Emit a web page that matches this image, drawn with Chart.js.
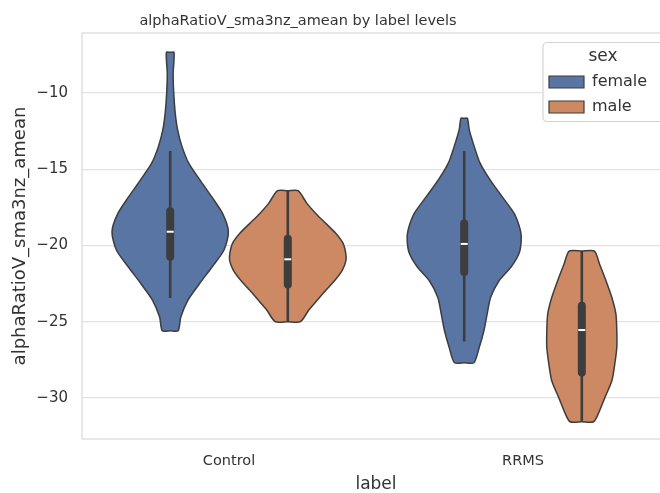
<!DOCTYPE html>
<html>
<head>
<meta charset="utf-8">
<script src="https://cdn.jsdelivr.net/npm/chart.js@4.4.1/dist/chart.umd.min.js"></script>
<style>
  html, body { margin: 0; padding: 0; background: #fff; width: 660px; height: 493px; overflow: hidden; }
  #wrap { width: 700px; height: 493px; }
</style>
</head>
<body>
<div id="wrap"><canvas id="violin" width="700" height="493"></canvas></div>
<script>
const categories = ['Control', 'RRMS'];
const hues = ['female', 'male'];
const hueColors = ['#5875a4', '#cc8963'];
const yTicks = [-30, -25, -20, -15, -10];

// violin outlines: y levels and half widths (in category units)
const controlFemaleY = [-7.33, -8.7, -10.0, -11.3, -12.4, -13.5, -14.6, -15.7, -16.8, -17.9, -19.1, -20.3, -21.4, -22.5, -23.6, -24.7, -25.6];
const controlFemaleW = [0.013, 0.010, 0.012, 0.017, 0.025, 0.040, 0.063, 0.101, 0.141, 0.178, 0.198, 0.183, 0.143, 0.100, 0.060, 0.036, 0.027];
const controlMaleY = [-16.41, -17.24, -17.9, -18.55, -19.2, -19.86, -20.5, -20.96, -21.6, -22.27, -22.93, -23.6, -24.25, -25.0];
const controlMaleW = [0.035, 0.065, 0.095, 0.129, 0.163, 0.188, 0.197, 0.198, 0.186, 0.161, 0.130, 0.100, 0.071, 0.043];
const rrmsFemaleY = [-11.66, -12.4, -13.5, -14.6, -15.7, -16.8, -17.9, -19.0, -19.65, -20.5, -21.4, -22.3, -23.4, -24.5, -25.6, -26.7, -27.7];
const rrmsFemaleW = [0.011, 0.017, 0.034, 0.054, 0.088, 0.129, 0.170, 0.191, 0.194, 0.187, 0.160, 0.119, 0.090, 0.078, 0.067, 0.051, 0.033];
const rrmsMaleY = [-20.37, -21.2, -22.3, -23.4, -24.5, -25.6, -26.7, -27.8, -28.9, -30.0, -31.0, -31.57];
const rrmsMaleW = [0.043, 0.060, 0.082, 0.102, 0.116, 0.119, 0.119, 0.112, 0.102, 0.078, 0.057, 0.040];

// inner box stats, one value per category
const femaleWhiskerHi = [-13.8, -13.8];
const femaleWhiskerLo = [-23.45, -26.3];
const femaleQ3 = [-17.76, -18.56];
const femaleQ1 = [-20.74, -21.74];
const femaleMedian = [-19.1, -19.9];
const maleWhiskerHi = [-16.41, -20.37];
const maleWhiskerLo = [-25.0, -31.57];
const maleQ3 = [-19.56, -23.96];
const maleQ1 = [-22.56, -28.34];
const maleMedian = [-20.91, -25.55];

const outlines = [
  [[controlFemaleY, controlFemaleW], [controlMaleY, controlMaleW]],
  [[rrmsFemaleY, rrmsFemaleW], [rrmsMaleY, rrmsMaleW]]
];
const stats = [
  { hi: femaleWhiskerHi, lo: femaleWhiskerLo, q3: femaleQ3, q1: femaleQ1, med: femaleMedian },
  { hi: maleWhiskerHi, lo: maleWhiskerLo, q3: maleQ3, q1: maleQ1, med: maleMedian }
];

const edge = '#3d3d3d';
const center = (ci, hi) => ci + (hi - 0.5) * 0.4;

function violinOutline(c, ys, ws) {
  const pts = [{ x: c, y: ys[0] }];
  ys.forEach((y, i) => pts.push({ x: c + ws[i], y }));
  pts.push({ x: c, y: ys[ys.length - 1] });
  for (let i = ys.length - 1; i >= 0; i--) pts.push({ x: c - ws[i], y: ys[i] });
  pts.push({ x: c, y: ys[0] });
  return pts;
}

const datasets = [];
categories.forEach((cat, ci) => {
  hues.forEach((hue, hi) => {
    const c = center(ci, hi);
    const [ys, ws] = outlines[ci][hi];
    const s = stats[hi];
    datasets.push({
      label: cat + ' ' + hue, data: violinOutline(c, ys, ws), order: 3,
      backgroundColor: hueColors[hi], borderColor: edge, borderWidth: 1.5,
      fill: 'shape', pointRadius: 0, tension: 0.25
    });
    datasets.push({
      data: [{ x: c, y: s.hi[ci] }, { x: c, y: s.lo[ci] }], order: 2,
      borderColor: edge, borderWidth: 2.6, pointRadius: 0, fill: false
    });
    datasets.push({
      data: [{ x: c, y: s.q3[ci] }, { x: c, y: s.q1[ci] }], order: 1,
      borderColor: edge, borderWidth: 8, borderCapStyle: 'round', pointRadius: 0, fill: false
    });
    datasets.push({
      data: [{ x: c, y: s.med[ci] }], order: 0, showLine: false,
      pointStyle: 'line', pointRadius: 3.5, pointBorderColor: '#ffffff', pointBorderWidth: 2
    });
  });
});

const violinFrame = {
  id: 'violinFrame',
  afterLayout(chart) {
    const lg = chart.legend, area = chart.chartArea;
    lg.left = area.right - 130;
    lg.top = area.top + 9;
    lg.width = 126;
    lg.right = lg.left + lg.width;
  },
  beforeDatasetsDraw(chart) {
    const { ctx, chartArea: a } = chart;
    ctx.save();
    ctx.strokeStyle = '#dcdcdc';
    ctx.lineWidth = 1.3;
    ctx.strokeRect(a.left, a.top, a.right - a.left, a.bottom - a.top);
    ctx.restore();
  },
  afterDraw(chart) {
    const { ctx } = chart;
    const lg = chart.legend;
    ctx.save();
    ctx.beginPath();
    ctx.roundRect(lg.left + 3, lg.top + 0.5, 150, 79, 4);
    ctx.fillStyle = '#ffffff';
    ctx.fill();
    ctx.strokeStyle = '#d4d4d4';
    ctx.lineWidth = 1.2;
    ctx.stroke();
    ctx.fillStyle = '#333333';
    ctx.font = '14.5px "DejaVu Sans"';
    ctx.textAlign = 'center';
    ctx.textBaseline = 'alphabetic';
    ctx.fillText('alphaRatioV_sma3nz_amean by label levels', 298, 25);
    ctx.restore();
    lg.draw();
  }
};

Chart.defaults.font.family = '"DejaVu Sans", sans-serif';
Chart.defaults.color = '#333333';

new Chart(document.getElementById('violin'), {
  type: 'line',
  data: { datasets },
  options: {
    indexAxis: 'y',
    responsive: false,
    animation: false,
    events: [],
    layout: { padding: { left: 0, top: 33, right: 30, bottom: 0 } },
    scales: {
      x: {
        type: 'linear', min: -0.5, max: 1.5,
        afterBuildTicks: s => { s.ticks = categories.map((c, i) => ({ value: i })); },
        afterFit: s => { s.height = 54; },
        grid: { display: false, drawTicks: false },
        border: { display: false },
        ticks: { callback: v => categories[v], padding: 14, autoSkip: false, maxRotation: 0, font: { size: 14.5 } },
        title: { display: true, text: 'label', font: { size: 17, lineHeight: 1 }, padding: 0 }
      },
      y: {
        type: 'linear', min: -32.7, max: -6.06,
        afterBuildTicks: s => { s.ticks = yTicks.map(v => ({ value: v })); },
        afterFit: s => { s.width = 82; },
        grid: { color: '#e3e3e3', lineWidth: 1.3, drawTicks: false },
        border: { display: false },
        ticks: { callback: v => String(v).replace('-', '\u2212'), padding: 14, font: { size: 15 } },
        title: { display: true, text: 'alphaRatioV_sma3nz_amean', font: { size: 18 }, padding: { top: 10, bottom: 0 } }
      }
    },
    plugins: {
      tooltip: { enabled: false },
      legend: {
        position: 'chartArea',
        align: 'start',
        title: { display: true, text: 'sex', font: { size: 17, lineHeight: 1 }, padding: { top: 6, bottom: 0 } },
        labels: {
          boxWidth: 35, boxHeight: 12, padding: 9, font: { size: 16 },
          generateLabels: () => hues.map((h, i) => ({
            text: h, fillStyle: hueColors[i], strokeStyle: edge, lineWidth: 1.2, hidden: false, datasetIndex: i
          }))
        }
      }
    }
  },
  plugins: [violinFrame]
});
</script>
</body>
</html>
